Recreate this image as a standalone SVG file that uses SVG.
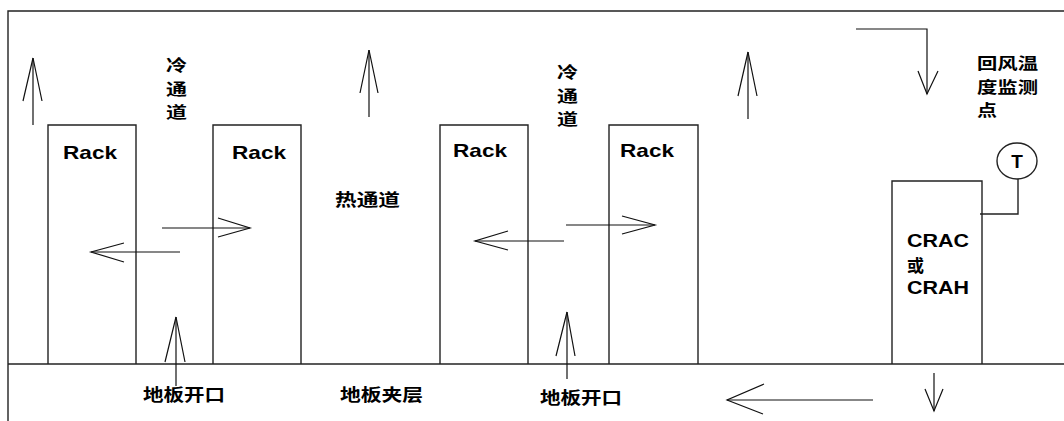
<svg xmlns="http://www.w3.org/2000/svg" width="1064" height="421" viewBox="0 0 1064 421">
<style>
.box{fill:none;stroke:#222;stroke-width:1.4}
.ln{fill:none;stroke:#111;stroke-width:1.2}
.cn{font-family:"Noto Sans CJK SC","Noto Sans CJK TC",sans-serif;font-weight:bold;font-size:17px;fill:#000}
.vt{font-size:16px}
.en{font-family:"Liberation Sans",Arial,sans-serif;font-weight:bold;font-size:19px;fill:#000}
</style>
<rect width="1064" height="421" fill="#fff"/>
<g id="frame">
<polyline class="box" points="8,421 8,11 1064,11"/>
<line class="box" x1="8" y1="364" x2="1064" y2="364"/>
</g>
<g id="rack1"><polyline class="box" points="48,364 48,125 136,125 136,364"/><text class="en" x="63" y="159" textLength="54" lengthAdjust="spacingAndGlyphs">Rack</text></g>
<g id="rack2"><polyline class="box" points="213,364 213,125 301,125 301,364"/><text class="en" x="232" y="159" textLength="54" lengthAdjust="spacingAndGlyphs">Rack</text></g>
<g id="rack3"><polyline class="box" points="440,364 440,125 528,125 528,364"/><text class="en" x="453" y="157" textLength="54" lengthAdjust="spacingAndGlyphs">Rack</text></g>
<g id="rack4"><polyline class="box" points="609,364 609,125 698,125 698,364"/><text class="en" x="620" y="157" textLength="54" lengthAdjust="spacingAndGlyphs">Rack</text></g>
<g id="crac">
<polyline class="box" points="892,364 892,181 982,181 982,364"/>
<text class="en" x="907" y="247" textLength="62" lengthAdjust="spacingAndGlyphs">CRAC</text>
<text class="cn" x="907" y="272">或</text>
<text class="en" x="907" y="294" textLength="62" lengthAdjust="spacingAndGlyphs">CRAH</text>
</g>
<g id="sensor">
<ellipse class="box" cx="1017" cy="161" rx="20" ry="18"/>
<text class="en" x="1017" y="168" font-size="18" text-anchor="middle">T</text>
<polyline class="box" points="1018,179 1018,214 980,214"/>
</g>
<g id="labels">
<text class="cn vt" x="166" y="71" textLength="21" lengthAdjust="spacingAndGlyphs">冷</text>
<text class="cn vt" x="166" y="94.5" textLength="21" lengthAdjust="spacingAndGlyphs">通</text>
<text class="cn vt" x="166" y="118" textLength="21" lengthAdjust="spacingAndGlyphs">道</text>
<text class="cn vt" x="557" y="78" textLength="21" lengthAdjust="spacingAndGlyphs">冷</text>
<text class="cn vt" x="557" y="101.5" textLength="21" lengthAdjust="spacingAndGlyphs">通</text>
<text class="cn vt" x="557" y="125" textLength="21" lengthAdjust="spacingAndGlyphs">道</text>
<text class="cn" x="335" y="206" textLength="65" lengthAdjust="spacingAndGlyphs">热通道</text>
<text class="cn vt" x="977" y="69" textLength="61" lengthAdjust="spacingAndGlyphs">回风温</text>
<text class="cn vt" x="977" y="92.5" textLength="61" lengthAdjust="spacingAndGlyphs">度监测</text>
<text class="cn vt" x="977" y="116" textLength="20" lengthAdjust="spacingAndGlyphs">点</text>
<text class="cn" x="143" y="401" textLength="82" lengthAdjust="spacingAndGlyphs">地板开口</text>
<text class="cn" x="340" y="401" textLength="83" lengthAdjust="spacingAndGlyphs">地板夹层</text>
<text class="cn" x="540" y="404" textLength="82" lengthAdjust="spacingAndGlyphs">地板开口</text>
</g>
<g id="connectors">
<line class="ln" x1="33" y1="125" x2="33" y2="58"/><polyline class="ln" points="23,101 33,58 42,101"/>
<line class="ln" x1="369" y1="117" x2="369" y2="50"/><polyline class="ln" points="360,93 369,50 378,93"/>
<line class="ln" x1="748" y1="119" x2="748" y2="52"/><polyline class="ln" points="738,96 748,52 757,96"/>
<polyline class="ln" points="856,29 927,29 927,94"/><polyline class="ln" points="918,71 927,94 938,71"/>
<line class="ln" x1="176" y1="386" x2="176" y2="317"/><polyline class="ln" points="165,362 176,317 185,362"/>
<line class="ln" x1="567" y1="379" x2="567" y2="312"/><polyline class="ln" points="556,356 567,312 575,356"/>
<line class="ln" x1="162" y1="228" x2="250" y2="228"/><polyline class="ln" points="218,218 250,228 218,237"/>
<line class="ln" x1="180" y1="252" x2="91" y2="252"/><polyline class="ln" points="124,243 91,252 124,262"/>
<line class="ln" x1="566" y1="225" x2="655" y2="225"/><polyline class="ln" points="622,216 655,225 622,234"/>
<line class="ln" x1="564" y1="241" x2="475" y2="241"/><polyline class="ln" points="508,231 475,241 508,250"/>
<line class="ln" x1="873" y1="400" x2="727" y2="400"/><polyline class="ln" points="764,384 727,400 763,414"/>
<line class="ln" x1="934" y1="373" x2="934" y2="411"/><polyline class="ln" points="925,389 934,411 943,389"/>
</g>
</svg>
